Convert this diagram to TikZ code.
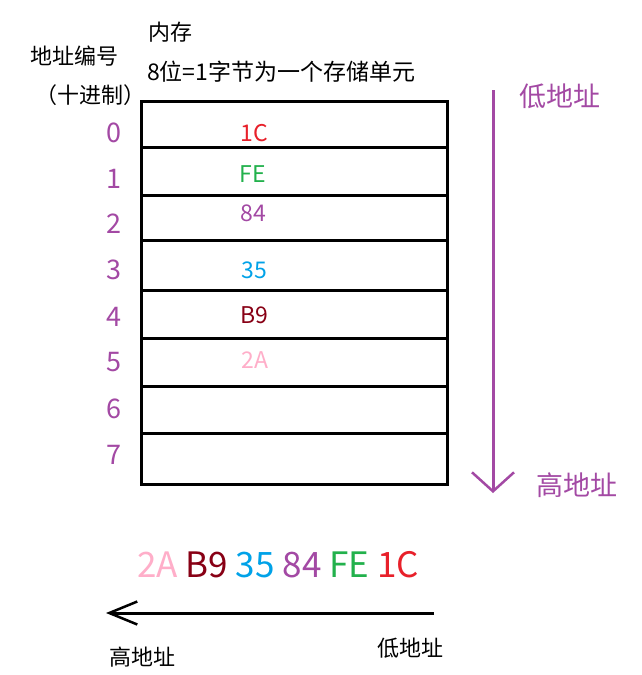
\documentclass[tikz,border=0pt]{standalone}
\usepackage{fontspec}
\setmainfont{Noto Sans CJK SC}
\usetikzlibrary{arrows.meta}
\definecolor{cred}{HTML}{E8202A}
\definecolor{cgreen}{HTML}{22B14C}
\definecolor{cpurple}{HTML}{A349A4}
\definecolor{cblue}{HTML}{00A2E8}
\definecolor{cdark}{HTML}{880015}
\definecolor{cpink}{HTML}{FFAEC9}
\tikzset{
  cell/.style={draw=black, line width=3pt, minimum width=306pt, inner sep=0pt, anchor=north west},
  addr/.style={text=cpurple, font=\fontsize{27}{27}\selectfont, inner sep=0pt},
  val/.style={font=\fontsize{23}{23}\selectfont, inner sep=0pt},
  lbl/.style={font=\fontsize{22}{22}\selectfont, inner sep=0pt, anchor=west},
  big/.style={font=\fontsize{35}{35}\selectfont, inner sep=0pt},
  side/.style={font=\fontsize{27}{27}\selectfont, inner sep=0pt, anchor=west},
  veedown/.style={-{Straight Barb[length=19pt, width=42pt, line width=2.5pt]}, line width=3pt},
  veeleft/.style={-{Straight Barb[length=28pt, width=23pt, line width=2.5pt]}, line width=3pt}
}
\begin{document}
\begin{tikzpicture}[x=1pt, y=-1pt]
\useasboundingbox[fill=white] (0,0) rectangle (642,675);
% cells
\node[cell, minimum height=46pt] (c0) at (140,100) {};
\node[cell, minimum height=48pt] (c1) at (140,146) {};
\node[cell, minimum height=45pt] (c2) at (140,194) {};
\node[cell, minimum height=50pt] (c3) at (140,239) {};
\node[cell, minimum height=48pt] (c4) at (140,289) {};
\node[cell, minimum height=48pt] (c5) at (140,337) {};
\node[cell, minimum height=47pt] (c6) at (140,385) {};
\node[cell, minimum height=51pt] (c7) at (140,432) {};
% values
\node[val, text=cred]   (v0) at (254,133) {1C};
\node[val, text=cgreen] (v1) at (253,174) {FE};
\node[val, text=cpurple](v2) at (253,213) {84};
\node[val, text=cblue]  (v3) at (254,270) {35};
\node[val, text=cdark]  (v4) at (254,315) {B9};
\node[val, text=cpink]  (v5) at (255,360) {2A};
% addresses
\node[addr] (a0) at (114,133) {0};
\node[addr] (a1) at (114,179) {1};
\node[addr] (a2) at (114,224) {2};
\node[addr] (a3) at (114,270) {3};
\node[addr] (a4) at (114,317) {4};
\node[addr] (a5) at (114,362) {5};
\node[addr] (a6) at (114,409) {6};
\node[addr] (a7) at (114,455) {7};
% labels
\node[lbl] (t1) at (148,32) {内存};
\node[lbl, font=\fontsize{23}{23}\selectfont] (t2) at (147,72) {8位=1字节为一个存储单元};
\node[lbl] (t3) at (30,56) {地址编号};
\node[lbl] (t4) at (35,95) {（十进制）};
% right arrow
\node[side, text=cpurple] (low) at (519,96) {低地址};
\node[side, text=cpurple] (high) at (536,485) {高地址};
\coordinate (ra) at (493,90);
\coordinate (rb) at (493,493);
\draw[veedown, draw=cpurple] (ra) -- (rb);
% bottom sequence
\node[big] (seq) at (278,565) {\textcolor{cpink}{2A} \textcolor{cdark}{B9} \textcolor{cblue}{35} \textcolor{cpurple}{84} \textcolor{cgreen}{FE} \textcolor{cred}{1C}};
\coordinate (ba) at (434,613);
\coordinate (bb) at (106,613);
\draw[veeleft, draw=black] (ba) -- (bb);
\node[lbl] (bh) at (109,657) {高地址};
\node[lbl] (bl) at (377,648) {低地址};
\end{tikzpicture}
\end{document}
